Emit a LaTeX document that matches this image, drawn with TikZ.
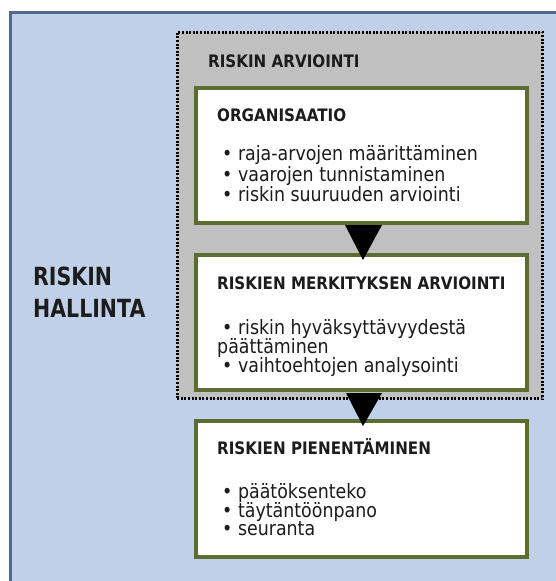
\documentclass[tikz,border=0pt]{standalone}
\usepackage{fontspec}
\setmainfont{DejaVu Sans}[FakeStretch=0.88]
\newfontfamily\headfont{DejaVu Sans}[FakeStretch=0.88]
\newfontfamily\titlefont{DejaVu Sans}[FakeStretch=0.82]
\usetikzlibrary{calc}

\definecolor{paneblue}{RGB}{191,208,232}
\definecolor{paneedge}{RGB}{78,104,144}
\definecolor{assessgray}{RGB}{192,192,192}
\definecolor{olive}{RGB}{91,109,47}
\definecolor{ink}{RGB}{28,28,28}

\tikzset{
  stagebox/.style={draw=olive, line width=4pt, fill=white, minimum width=331pt,
    minimum height=135pt, inner sep=0pt},
  assessbox/.style={draw=black, line width=2.6pt, dash pattern=on 2pt off 1.6pt,
    fill=assessgray, minimum width=365.5pt, minimum height=366.5pt, inner sep=0pt},
  headtext/.style={anchor=base west, inner sep=0pt, text=ink,
    font=\headfont\bfseries\fontsize{17.2pt}{19pt}\selectfont},
  bodytext/.style={anchor=base west, inner sep=0pt, text=ink,
    font=\fontsize{19.8pt}{21pt}\selectfont},
  titletext/.style={anchor=base west, inner sep=0pt, text=ink,
    font=\titlefont\bfseries\fontsize{25pt}{27pt}\selectfont},
  flowarrow/.style={fill=black},
}

\begin{document}
\begin{tikzpicture}[x=1pt, y=-1pt]
\useasboundingbox (0,0) rectangle (556,581);
\fill[white] (0,0) rectangle (556,581);

% outer risk-management pane, open to the right and bottom
\fill[paneblue] (10,12) rectangle (560,590);
\draw[paneedge, line width=3pt] (10.5,590) -- (10.5,12) -- (560,12);

% risk assessment area
\node[assessbox] (assess) at (360,215.5) {};

% the three stages
\node[stagebox] (org)  at (361.5,155.5) {};
\node[stagebox] (merk) at (361.5,322.5) {};
\node[stagebox, minimum height=136pt] (pien) at (361.5,489) {};

% flow arrows between the stages
\fill[flowarrow] ($(org.south)+(-16.5,0)$) -- ($(org.south)+(20.5,0)$)
  -- ($(merk.north)+(1.5,7)$) -- cycle;
\fill[flowarrow] ($(merk.south)+(-15.5,1)$) -- ($(merk.south)+(20.5,1)$)
  -- ($(pien.north)+(1.5,7)$) -- cycle;

% labels
\node[titletext] (t1) at (33,285) {RISKIN};
\node[titletext] (t2) at (33,317) {HALLINTA};

\node[headtext] (ah) at (208,67) {RISKIN ARVIOINTI};

\node[headtext] (oh) at (217,121) {ORGANISAATIO};
\node[bodytext] (o1) at (222,160) {• raja-arvojen määrittäminen};
\node[bodytext] (o2) at (222,181) {• vaarojen tunnistaminen};
\node[bodytext] (o3) at (222,201) {• riskin suuruuden arviointi};

\node[headtext] (mh) at (217,289) {RISKIEN MERKITYKSEN ARVIOINTI};
\node[bodytext] (m1) at (222,334) {• riskin hyväksyttävyydestä};
\node[bodytext] (m2) at (217,353) {päättäminen};
\node[bodytext] (m3) at (222,372) {• vaihtoehtojen analysointi};

\node[headtext] (ph) at (217,454) {RISKIEN PIENENTÄMINEN};
\node[bodytext] (p1) at (222,498) {• päätöksenteko};
\node[bodytext] (p2) at (222,517) {• täytäntöönpano};
\node[bodytext] (p3) at (222,535) {• seuranta};
\end{tikzpicture}
\end{document}
